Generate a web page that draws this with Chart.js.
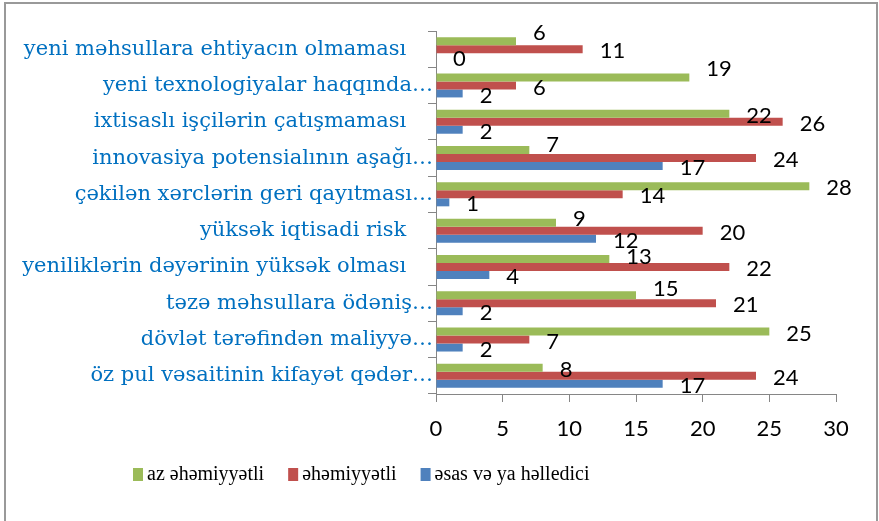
<!DOCTYPE html>
<html>
<head>
<meta charset="utf-8">
<script src="https://cdn.jsdelivr.net/npm/chart.js@4"></script>
<style>
  html, body { margin: 0; padding: 0; background: #fff; }
  #wrap { width: 879px; height: 521px; }
</style>
</head>
<body>
<div id="wrap"><canvas id="myChart" width="879" height="521"></canvas></div>
<script>
// categories, top to bottom
let categories = [
    "yeni məhsullara ehtiyacın olmaması    ",
    "yeni texnologiyalar haqqında…",
    "ixtisaslı işçilərin çatışmaması    ",
    "innovasiya potensialının aşağı…",
    "çəkilən xərclərin geri qayıtması…",
    "yüksək iqtisadi risk    ",
    "yeniliklərin dəyərinin yüksək olması    ",
    "təzə məhsullara ödəniş…",
    "dövlət tərəfindən maliyyə…",
    "öz pul vəsaitinin kifayət qədər…"
];

let seriesNames = ["az əhəmiyyətli", "əhəmiyyətli", "əsas və ya həlledici"];

let azEhemiyyetli = [6, 19, 22, 7, 28, 9, 13, 15, 25, 8];
let ehemiyyetli = [11, 6, 26, 24, 14, 20, 22, 21, 7, 24];
let esasVeYaHelledici = [0, 2, 2, 17, 1, 12, 4, 2, 2, 17];

let xTicks = [0, 5, 10, 15, 20, 25, 30];

let colors = ["#9BBB59", "#C0504D", "#4F81BD"];

// small vertical nudges for some green labels (excel moved them up)
let greenLift = [-10, -11, 0, -7, 0, -6, -4, -8, 0, 0];

const frame = {
    id: 'frame',
    beforeDraw(chart) {
        const c = chart.ctx;
        c.save();
        c.fillStyle = '#fff';
        c.fillRect(0, 0, chart.width, chart.height);
        c.strokeStyle = '#999';
        c.lineWidth = 2;
        c.strokeRect(5, 3, 872, 530);
        c.restore();
    }
};

const valueLabels = {
    id: 'valueLabels',
    afterDatasetsDraw(chart) {
        const c = chart.ctx;
        c.save();
        c.font = '22px Lato';
        c.fillStyle = '#000';
        c.textAlign = 'left';
        c.textBaseline = 'middle';
        chart.data.datasets.forEach((ds, i) => {
            const meta = chart.getDatasetMeta(i);
            meta.data.forEach((bar, j) => {
                let dy = 2;
                if (i === 0) dy += greenLift[j];
                c.fillText(String(ds.data[j]), bar.x + 17, bar.y + dy);
            });
        });
        c.restore();
    }
};

const bottomLegend = {
    id: 'bottomLegend',
    afterDraw(chart) {
        const c = chart.ctx;
        c.save();
        c.font = '20px "Liberation Serif"';
        c.textBaseline = 'middle';
        c.textAlign = 'left';
        let x = 133;
        const y = 475;
        chart.data.datasets.forEach((ds) => {
            c.fillStyle = ds.backgroundColor;
            c.fillRect(x, y - 7, 10, 13);
            c.fillStyle = '#000';
            c.fillText(ds.label, x + 14, y);
            x += 14 + c.measureText(ds.label).width + 24;
        });
        c.restore();
    }
};

const ctx = document.getElementById('myChart');

new Chart(ctx, {
    type: 'bar',
    data: {
        labels: categories,
        datasets: [
            { label: seriesNames[0], data: azEhemiyyetli, backgroundColor: colors[0] },
            { label: seriesNames[1], data: ehemiyyetli, backgroundColor: colors[1] },
            { label: seriesNames[2], data: esasVeYaHelledici, backgroundColor: colors[2] }
        ]
    },
    options: {
        indexAxis: 'y',
        responsive: false,
        animation: false,
        categoryPercentage: 0.66,
        barPercentage: 1,
        layout: { padding: { top: 31, right: 43, left: 0, bottom: 77 } },
        plugins: {
            legend: { display: false },
            tooltip: { enabled: false }
        },
        scales: {
            x: {
                min: 0,
                max: 30,
                afterBuildTicks(scale) {
                    scale.ticks = xTicks.map(v => ({ value: v }));
                },
                afterFit(scale) { scale.height = 50; },
                grid: { drawOnChartArea: false, tickLength: 8, color: '#868686' },
                border: { color: '#868686', width: 1 },
                ticks: { font: { family: 'Lato', size: 22 }, color: '#000', padding: 14 }
            },
            y: {
                afterFit(scale) { scale.width = 436; },
                grid: { drawOnChartArea: false, tickLength: 8, color: '#868686', offset: true },
                border: { color: '#868686', width: 1 },
                ticks: {
                    font: { family: '"DejaVu Serif"', size: 21 },
                    color: '#0070C0',
                    padding: -5,
                    autoSkip: false
                }
            }
        }
    },
    plugins: [frame, valueLabels, bottomLegend]
});
</script>
</body>
</html>
